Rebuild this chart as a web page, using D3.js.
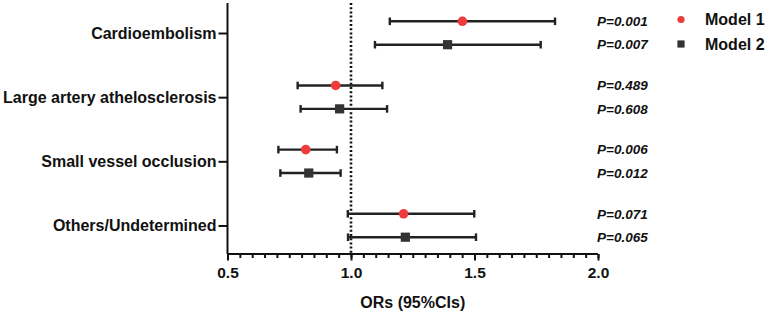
<!DOCTYPE html>
<html>
<head>
<meta charset="utf-8">
<script src="https://cdn.jsdelivr.net/npm/d3@7"></script>
<style>
  body { margin:0; background:#fff; }
  svg { display:block; font-family:"Liberation Sans", Arial, sans-serif; }
  .axis text { font-weight:bold; font-size:15.5px; fill:#111; }
  .axis path, .axis line { stroke:#111; stroke-width:2; }
  .yaxis text { font-size:16px; }
</style>
</head>
<body>
<div id="chart"></div>
<script>
// Forest plot — ORs (95% CIs) by stroke subtype, two models

const categories = ["Cardioembolism", "Large artery athelosclerosis", "Small vessel occlusion", "Others/Undetermined"];
const models = ["Model 1", "Model 2"];

// point estimate, lower, upper
const model1OR  = [1.451, 0.938, 0.817, 1.213];
const model1Lo  = [1.157, 0.784, 0.706, 0.987];
const model1Hi  = [1.826, 1.127, 0.943, 1.499];
const model2OR  = [1.391, 0.954, 0.829, 1.220];
const model2Lo  = [1.097, 0.796, 0.714, 0.988];
const model2Hi  = [1.768, 1.146, 0.958, 1.506];

const model1P = ["P=0.001", "P=0.489", "P=0.006", "P=0.071"];
const model2P = ["P=0.007", "P=0.608", "P=0.012", "P=0.065"];

const xTicks = [0.5, 1.0, 1.5, 2.0];
const xTitle = "ORs (95%CIs)";

const rows = [];
categories.forEach((c, i) => {
  rows.push({cat:c, model:0, or:model1OR[i], lo:model1Lo[i], hi:model1Hi[i], p:model1P[i]});
  rows.push({cat:c, model:1, or:model2OR[i], lo:model2Lo[i], hi:model2Hi[i], p:model2P[i]});
});

const width = 767, height = 314;
const red = "#ee3b3b", dark = "#333333";

const svg = d3.select("#chart").append("svg")
  .attr("width", width).attr("height", height);

const x = d3.scaleLinear().domain([0.5, 2.0]).range([227.5, 598]);
const y = d3.scalePoint().domain(categories).range([33, 225.5]);
const off = d3.scaleOrdinal().domain([0, 1]).range([-11.7, 11.7]);
const axisY = 254, axisTop = 3;

// x axis: minor ticks every 0.05
const minor = d3.range(0.5, 2.0001, 0.05).map(v => +v.toFixed(2));
const xg = svg.append("g").attr("class", "axis").attr("transform", `translate(0,${axisY})`);
xg.call(d3.axisBottom(x).tickValues(minor).tickSize(4).tickFormat(""));
xg.call(g => g.select(".domain").remove());
const xMajor = svg.append("g").attr("class", "axis").attr("transform", `translate(0,${axisY})`)
  .call(d3.axisBottom(x).tickValues(xTicks).tickSize(6.5).tickPadding(6).tickFormat(d3.format(".1f")));
xMajor.select(".domain").attr("d", `M${x(0.5)},0H${x(2.0)}`);

// y axis
const yg = svg.append("g").attr("class", "axis yaxis").attr("transform", `translate(${x(0.5)},0)`)
  .call(d3.axisLeft(y).tickSize(9).tickPadding(2));
yg.select(".domain").attr("d", `M0,${axisTop}V${axisY}`);

// reference line at OR = 1
svg.append("line")
  .attr("x1", x(1)).attr("x2", x(1))
  .attr("y1", axisTop).attr("y2", axisY)
  .attr("stroke", "#111").attr("stroke-width", 2.6)
  .attr("stroke-dasharray", "2,2.2");

// error bars
const bars = svg.append("g").selectAll("g").data(rows).join("g")
  .attr("transform", d => `translate(0,${y(d.cat) + off(d.model)})`);
bars.append("line")
  .attr("x1", d => x(d.lo)).attr("x2", d => x(d.hi))
  .attr("stroke", "#222").attr("stroke-width", 2.4);
bars.selectAll("line.cap").data(d => [d.lo, d.hi]).join("line")
  .attr("class", "cap")
  .attr("x1", v => x(v)).attr("x2", v => x(v))
  .attr("y1", -3.8).attr("y2", 3.8)
  .attr("stroke", "#222").attr("stroke-width", 2.4);

// markers
bars.filter(d => d.model === 0).append("circle")
  .attr("cx", d => x(d.or)).attr("r", 4.8).attr("fill", red);
bars.filter(d => d.model === 1).append("rect")
  .attr("x", d => x(d.or) - 4.6).attr("y", -4.6)
  .attr("width", 9.2).attr("height", 9.2).attr("fill", dark);

// p values
bars.append("text")
  .attr("x", 597).attr("dy", "0.35em")
  .attr("font-size", 13.5).attr("font-weight", "bold").attr("font-style", "italic")
  .attr("fill", "#111")
  .text(d => d.p);

// x title
svg.append("text")
  .attr("x", (x(0.5) + x(2.0)) / 2).attr("y", 302).attr("dy", "0.35em")
  .attr("text-anchor", "middle")
  .attr("font-size", 16).attr("font-weight", "bold").attr("fill", "#111")
  .text(xTitle);

// legend
const lg = svg.append("g").selectAll("g").data(models).join("g")
  .attr("transform", (d, i) => `translate(681,${19.5 + i * 24.5})`);
lg.filter((d, i) => i === 0).append("circle").attr("r", 3.6).attr("fill", red);
lg.filter((d, i) => i === 1).append("rect").attr("x", -3.6).attr("y", -3.6)
  .attr("width", 7.2).attr("height", 7.2).attr("fill", dark);
lg.append("text")
  .attr("x", 24).attr("dy", "0.35em")
  .attr("font-size", 16).attr("font-weight", "bold").attr("fill", "#111")
  .text(d => d);
</script>
</body>
</html>
